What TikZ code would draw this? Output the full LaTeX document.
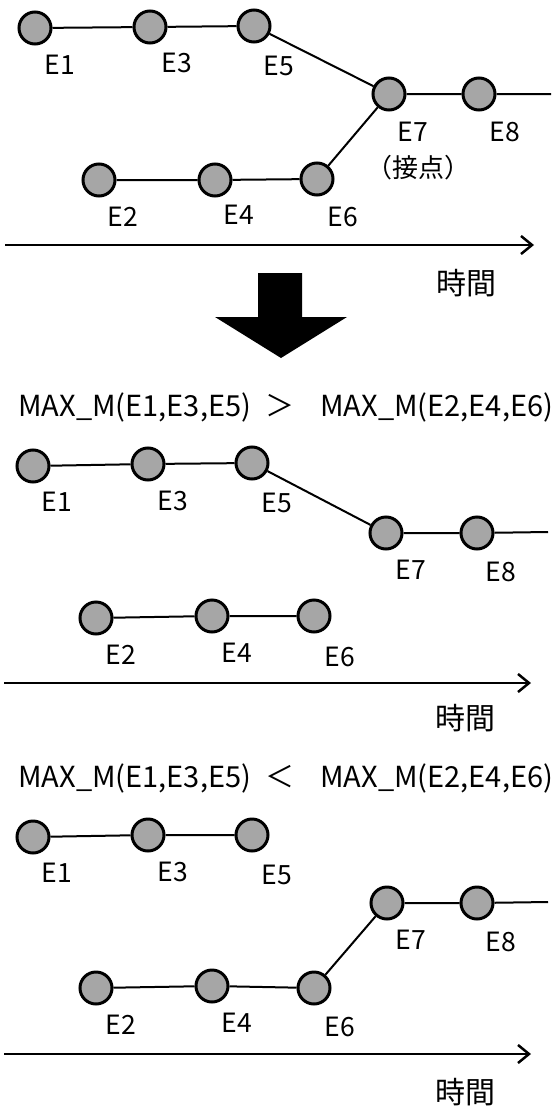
\documentclass[tikz,border=0pt]{standalone}
\usepackage{fontspec}
\setmainfont{Noto Sans CJK JP}
\usepackage{xcolor}
\definecolor{evgray}{RGB}{166,166,166}
\usetikzlibrary{arrows.meta}
\tikzset{
  event/.style={circle, draw=black, line width=3pt, fill=evgray, minimum size=32pt, inner sep=0pt},
  evlabel/.style={font=\fontsize{26.5}{30}\selectfont, inner sep=0pt},
  cjklabel/.style={font=\fontsize{30}{34}\selectfont, inner sep=0pt},
  header/.style={font=\fontsize{29}{33}\selectfont, inner sep=0pt, anchor=west},
  link/.style={line width=2pt},
  timeaxis/.style={line width=2.5pt, -{Straight Barb[length=11pt,width=18pt]}},
}

\begin{document}
\begin{tikzpicture}[x=1pt, y=-1pt]
  \useasboundingbox (0,0) rectangle (558,1108);

  % --- Panel 1: two chains meet at E7 ---
  \node[event] (p1e1) at (35,28) {};
  \node[event] (p1e3) at (150,27) {};
  \node[event] (p1e5) at (254,26) {};
  \node[event] (p1e7) at (389,94) {};
  \node[event] (p1e8) at (479,94) {};
  \coordinate (p1end) at (551,94);
  \node[event] (p1e2) at (99,180) {};
  \node[event] (p1e4) at (215,180) {};
  \node[event] (p1e6) at (317,179) {};
  \draw[link] (p1e1) -- (p1e3) -- (p1e5) -- (p1e7) -- (p1e8) -- (p1end);
  \draw[link] (p1e2) -- (p1e4) -- (p1e6) -- (p1e7);
  \node[evlabel] (p1l1) at (60,65) {E1};
  \node[evlabel] (p1l3) at (177,63) {E3};
  \node[evlabel] (p1l5) at (279,66) {E5};
  \node[evlabel] (p1l7) at (413,132) {E7};
  \node[cjklabel, font=\fontsize{26}{30}\selectfont] (p1lj) at (418,168) {（接点）};
  \node[evlabel] (p1l8) at (505,132) {E8};
  \node[evlabel] (p1l2) at (123,217) {E2};
  \node[evlabel] (p1l4) at (239,215) {E4};
  \node[evlabel] (p1l6) at (343,217) {E6};
  % time axis
  \coordinate (p1a0) at (5,245);
  \coordinate (p1a1) at (534,245);
  \draw[timeaxis] (p1a0) -- (p1a1);
  \node[cjklabel] (p1t) at (466,283) {時間};

  % big down arrow
  \fill (258,273) -- (302,273) -- (302,317) -- (347,317) -- (281,358)
        -- (215,317) -- (258,317) -- cycle;

  % --- Panel 2: E1,E3,E5 chain wins ---
  \node[header] (p2h) at (18,407)
    {MAX\_M(E1,E3,E5)\hspace{14pt}＞\hspace{26pt}MAX\_M(E2,E4,E6)};
  \node[event] (p2e1) at (33,466) {};
  \node[event] (p2e3) at (148,464) {};
  \node[event] (p2e5) at (252,463) {};
  \node[event] (p2e7) at (386,533) {};
  \node[event] (p2e8) at (477,533) {};
  \coordinate (p2end) at (548,532);
  \node[event] (p2e2) at (96,618) {};
  \node[event] (p2e4) at (212,616) {};
  \node[event] (p2e6) at (314,616) {};
  \draw[link] (p2e1) -- (p2e3) -- (p2e5) -- (p2e7) -- (p2e8) -- (p2end);
  \draw[link] (p2e2) -- (p2e4) -- (p2e6);
  \node[evlabel] (p2l1) at (57,502) {E1};
  \node[evlabel] (p2l3) at (173,501) {E3};
  \node[evlabel] (p2l5) at (277,503) {E5};
  \node[evlabel] (p2l7) at (411,570) {E7};
  \node[evlabel] (p2l8) at (501,572) {E8};
  \node[evlabel] (p2l2) at (121,655) {E2};
  \node[evlabel] (p2l4) at (237,653) {E4};
  \node[evlabel] (p2l6) at (340,657) {E6};
  \coordinate (p2a0) at (4,683);
  \coordinate (p2a1) at (531,683);
  \draw[timeaxis] (p2a0) -- (p2a1);
  \node[cjklabel] (p2t) at (465,718) {時間};

  % --- Panel 3: E2,E4,E6 chain wins ---
  \node[header] (p3h) at (18,778)
    {MAX\_M(E1,E3,E5)\hspace{14pt}＜\hspace{26pt}MAX\_M(E2,E4,E6)};
  \node[event] (p3e1) at (33,837) {};
  \node[event] (p3e3) at (148,835) {};
  \node[event] (p3e5) at (252,835) {};
  \node[event] (p3e7) at (387,903) {};
  \node[event] (p3e8) at (477,903) {};
  \coordinate (p3end) at (548,902);
  \node[event] (p3e2) at (96,988) {};
  \node[event] (p3e4) at (212,986) {};
  \node[event] (p3e6) at (314,988) {};
  \draw[link] (p3e1) -- (p3e3) -- (p3e5);
  \draw[link] (p3e2) -- (p3e4) -- (p3e6) -- (p3e7) -- (p3e8) -- (p3end);
  \node[evlabel] (p3l1) at (57,873) {E1};
  \node[evlabel] (p3l3) at (173,872) {E3};
  \node[evlabel] (p3l5) at (277,875) {E5};
  \node[evlabel] (p3l7) at (411,940) {E7};
  \node[evlabel] (p3l8) at (501,942) {E8};
  \node[evlabel] (p3l2) at (121,1025) {E2};
  \node[evlabel] (p3l4) at (237,1023) {E4};
  \node[evlabel] (p3l6) at (340,1027) {E6};
  \coordinate (p3a0) at (4,1054);
  \coordinate (p3a1) at (531,1054);
  \draw[timeaxis] (p3a0) -- (p3a1);
  \node[cjklabel] (p3t) at (465,1092) {時間};
\end{tikzpicture}
\end{document}
